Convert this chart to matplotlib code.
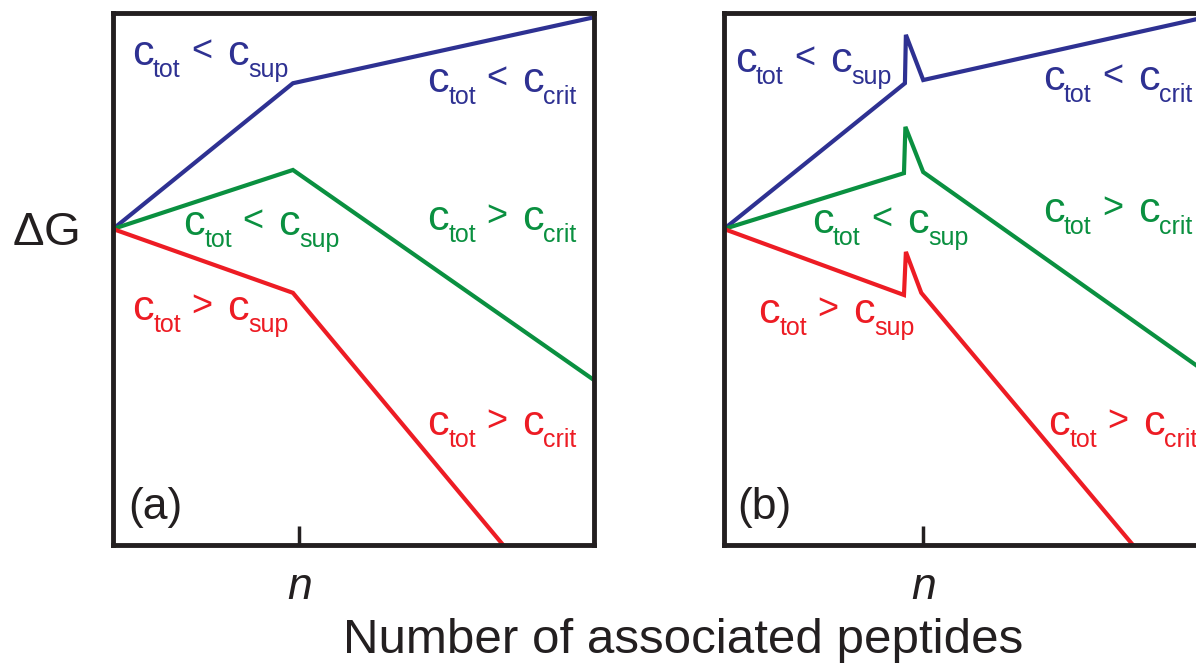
import matplotlib
matplotlib.use("Agg")
from matplotlib import pyplot as plt

plt.rcParams['font.family'] = ['Liberation Sans', 'DejaVu Sans']
plt.rcParams['mathtext.fontset'] = 'custom'
plt.rcParams['mathtext.rm'] = 'Liberation Sans'
plt.rcParams['mathtext.it'] = 'Liberation Sans:italic'

BLUE = "#2E3192"
GREEN = "#0A9040"
RED = "#ED1C24"
INK = "#231F20"

# panel (a): simple kinked free-energy curves
a_blue_x = [0, 0.374, 1.0]
a_blue_y = [0.594, 0.868, 0.992]
a_green_x = [0, 0.374, 1.0]
a_green_y = [0.594, 0.705, 0.310]
a_red_x = [0, 0.374, 0.811]
a_red_y = [0.594, 0.474, 0.0]

# panel (b): same but with a barrier spike at n
b_blue_x = [0, 0.376, 0.378, 0.414, 1.0]
b_blue_y = [0.594, 0.868, 0.959, 0.874, 0.992]
b_green_x = [0, 0.374, 0.377, 0.414, 1.0]
b_green_y = [0.594, 0.699, 0.786, 0.701, 0.326]
b_red_x = [0, 0.374, 0.378, 0.410, 0.850]
b_red_y = [0.594, 0.470, 0.551, 0.474, 0.0]

a_tick = 0.387
b_tick = 0.414

# (sub1, relation, sub2)
sup_lt = ('tot', '<', 'sup')
sup_gt = ('tot', '>', 'sup')
crit_lt = ('tot', '<', 'crit')
crit_gt = ('tot', '>', 'crit')


def label(ax, x, y, parts, color):
    # c_tot < c_sup built from pieces, offsets in pixels from the first c
    sub1, rel, sub2 = parts
    pieces = [('c', 0, 0, 31), (sub1, 21, -12, 18), (rel, 59, 4, 26),
              ('c', 95, 0, 31), (sub2, 116, -12, 18)]
    for s, dx, dy, size in pieces:
        ax.annotate(s, xy=(x, y), xycoords='data', xytext=(dx, dy),
                    textcoords='offset pixels', color=color, fontsize=size,
                    ha='left', va='baseline')


fig = plt.figure(figsize=(11.96, 6.64), dpi=100)
ax_a = fig.add_axes([0.0945, 0.1792, 0.4022, 0.8012])
ax_b = fig.add_axes([0.6054, 0.1792, 0.4022, 0.8012])

lw = 3.0
ax_a.plot(a_blue_x, a_blue_y, color=BLUE, lw=lw, solid_joinstyle='miter')
ax_a.plot(a_green_x, a_green_y, color=GREEN, lw=lw, solid_joinstyle='miter')
ax_a.plot(a_red_x, a_red_y, color=RED, lw=lw, solid_joinstyle='miter')

ax_b.plot(b_blue_x, b_blue_y, color=BLUE, lw=lw, solid_joinstyle='miter')
ax_b.plot(b_green_x, b_green_y, color=GREEN, lw=lw, solid_joinstyle='miter')
ax_b.plot(b_red_x, b_red_y, color=RED, lw=lw, solid_joinstyle='miter')

a_texts = [
    (0.039, 0.902, sup_lt, BLUE),
    (0.653, 0.852, crit_lt, BLUE),
    (0.146, 0.583, sup_lt, GREEN),
    (0.653, 0.592, crit_gt, GREEN),
    (0.040, 0.423, sup_gt, RED),
    (0.653, 0.207, crit_gt, RED),
]
b_texts = [
    (0.023, 0.889, sup_lt, BLUE),
    (0.663, 0.855, crit_lt, BLUE),
    (0.183, 0.586, sup_lt, GREEN),
    (0.663, 0.607, crit_gt, GREEN),
    (0.071, 0.417, sup_gt, RED),
    (0.674, 0.207, crit_gt, RED),
]
for x, y, p, c in a_texts:
    label(ax_a, x, y, p, c)
for x, y, p, c in b_texts:
    label(ax_b, x, y, p, c)

ax_a.text(0.031, 0.071, '(a)', fontsize=32, ha='left', va='center', color=INK)
ax_b.text(0.027, 0.071, '(b)', fontsize=32, ha='left', va='center', color=INK)

for ax, t in [(ax_a, a_tick), (ax_b, b_tick)]:
    ax.set_xlim(0, 1)
    ax.set_ylim(0, 1)
    ax.set_xticks([t])
    ax.set_xticklabels(['$n$'], fontsize=32)
    ax.set_yticks([])
    ax.tick_params(axis='x', direction='in', length=14, width=2.5, pad=16, colors=INK)
    for sp in ax.spines.values():
        sp.set_linewidth(3.5)
        sp.set_color(INK)

fig.text(0.010, 0.631, r'$\mathregular{\Delta G}$', fontsize=34, ha='left', va='baseline', color=INK)
fig.text(0.571, 0.0166, 'Number of associated peptides', fontsize=35.5, ha='center', va='baseline', color=INK)

fig.savefig('out.png', dpi=100)
